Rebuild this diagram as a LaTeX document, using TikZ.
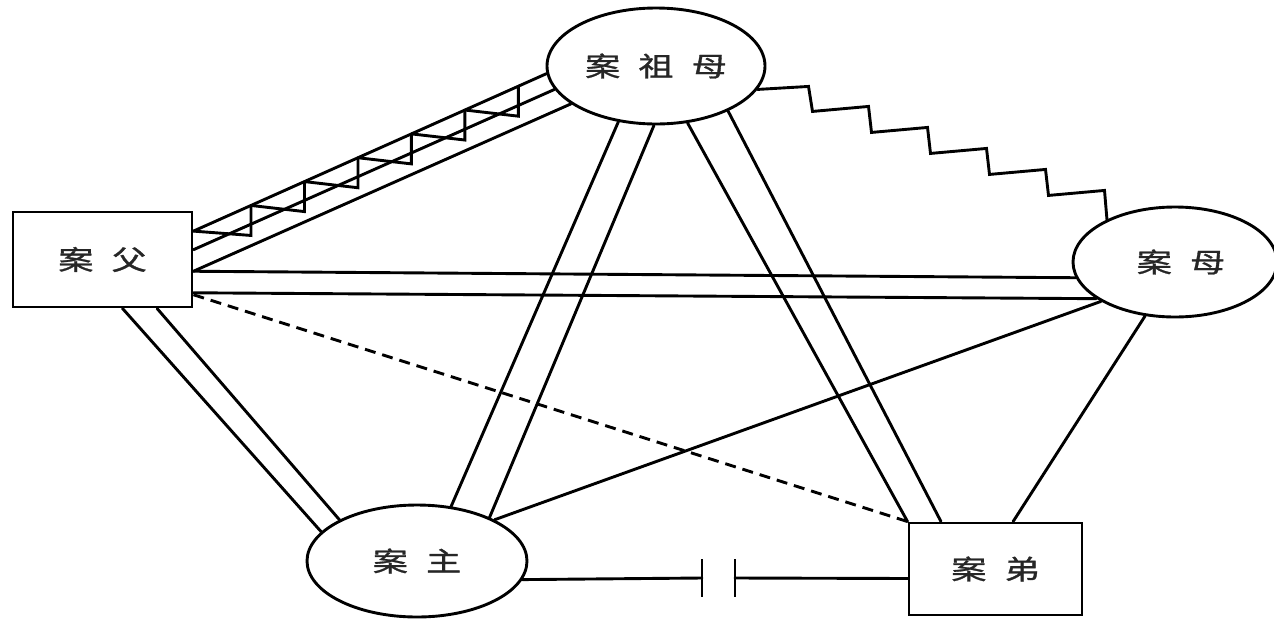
\documentclass[tikz,border=0pt]{standalone}
\usepackage{fontspec}
\usepackage{graphicx}
\newfontfamily\cjk[FakeBold=1]{Noto Sans CJK SC}
\usetikzlibrary{shapes.geometric,calc}
\tikzset{
  lnk/.style={line width=2.9pt, line cap=round, line join=miter},
  lbl/.style={draw, line width=2.9pt, inner sep=0pt, text=black!85, font=\cjk\fontsize{27}{27}\selectfont},
  oval/.style={lbl, ellipse},
  box/.style={lbl, rectangle},
  dashlink/.style={lnk, line cap=butt, dash pattern=on 11pt off 7pt},
}
\newcommand{\gp}{\hspace{14pt}}
\newcommand{\lab}[1]{\scalebox{1.3}[1]{#1}}
\begin{document}
\begin{tikzpicture}[x=1pt,y=-1pt]
\fill[white] (0,0) rectangle (1274,619);
\useasboundingbox (0,0) rectangle (1274,619);

% nodes
\node[oval, minimum width=218pt, minimum height=116pt] (gm) at (656,66) {\lab{案\gp 祖\gp 母}};
\node[box, minimum width=179pt, minimum height=95pt] (f) at (102.5,259.5) {\lab{案\gp 父}};
\node[oval, minimum width=204pt, minimum height=110pt] (mo) at (1175,262) {\hspace{12pt}\lab{案\gp 母}};
\node[oval, minimum width=220pt, minimum height=112pt] (m) at (417,561) {\lab{案\gp 主}};
\node[box, minimum width=173pt, minimum height=92pt] (b) at (995.5,569) {\lab{案\gp 弟}};

% anchor points on the rectangles
\coordinate (fA) at ($(f.north east)!0.21!(f.south east)$);
\coordinate (fB) at ($(f.north east)!0.40!(f.south east)$);
\coordinate (fC) at ($(f.north east)!0.62!(f.south east)$);
\coordinate (fD) at ($(f.north east)!0.84!(f.south east)$);
\coordinate (fE) at ($(f.north east)!0.86!(f.south east)$);
\coordinate (fS1) at ($(f.south west)!0.61!(f.south east)$);
\coordinate (fS2) at ($(f.south west)!0.80!(f.south east)$);
\coordinate (bN1) at ($(b.north west)!0.19!(b.north east)$);
\coordinate (bN2) at ($(b.north west)!0.60!(b.north east)$);
\coordinate (bW) at ($(b.north west)!0.6!(b.south west)$);

% father -- grandmother (three lines with sawtooth)
\draw[lnk] (fA) -- (gm.184);
\draw[lnk] (fB) -- (gm.193.5);
\draw[lnk] (fC) -- (gm.204.4);
\foreach \a/\b in {0/0.163, 0.163/0.3145, 0.3145/0.466, 0.466/0.6175, 0.6175/0.769, 0.769/0.9205}
  \draw[lnk] ($(fA)!\a!(gm.184)$) -- ($(fA)!\b!(gm.184)+(0,30)$) -- ($(fA)!\b!(gm.184)$);

% grandmother -- mother (staircase)
\draw[lnk] (gm.347) -- ++(51,-3) -- ++(4,25)
  -- ++(56,-5) -- ++(3,26)
  -- ++(56,-5) -- ++(3,26)
  -- ++(56,-5) -- ++(3,26)
  -- ++(56,-5) -- ++(3,26)
  -- ++(56,-5) -- (mo.148);

% grandmother -- main (double)
\draw[lnk] (gm.236.3) -- (m.58);
\draw[lnk] (gm.268) -- (m.31);

% grandmother -- brother (double)
\draw[lnk] (gm.299) -- (b.north west);
\draw[lnk] (gm.328) -- (bN1);

% father -- mother (double)
\draw[lnk] (fC) -- (mo.189);
\draw[lnk] (fD) -- (mo.205.6);

% father -- main (double)
\draw[lnk] (fS1) -- (m.163.9);
\draw[lnk] (fS2) -- (m.152);

% father -- brother (dashed)
\draw[dashlink] (fE) -- (b.north west);

% main -- mother
\draw[lnk] (m.28) -- (mo.208.5);

% mother -- brother
\draw[lnk] (mo.241.4) -- (bN2);

% main -- brother with break symbol
\coordinate (c1) at (702,578);
\coordinate (c2) at (735,578);
\draw[lnk] (m.-10) -- (c1);
\draw[lnk, line cap=butt] ($(c1)+(0,-19)$) -- ($(c1)+(0,19)$);
\draw[lnk, line cap=butt] ($(c2)+(0,-19)$) -- ($(c2)+(0,19)$);
\draw[lnk] (c2) -- (bW);
\end{tikzpicture}
\end{document}
